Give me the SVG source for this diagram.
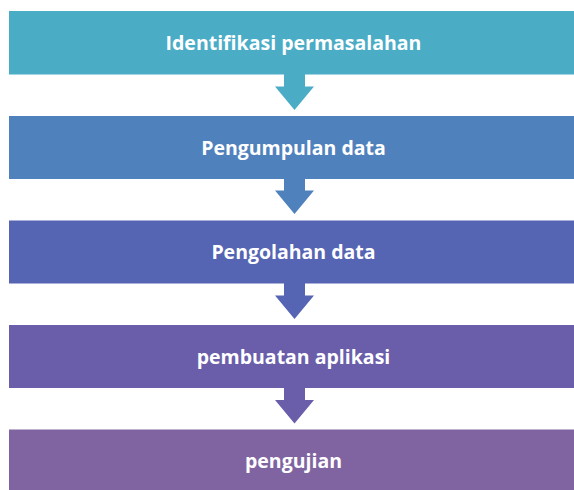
<svg xmlns="http://www.w3.org/2000/svg" width="574" height="490" viewBox="0 0 574 490">
<style>
.lbl{font-family:"Open Sans","Liberation Sans",sans-serif;font-weight:bold;font-size:19.5px;fill:#ffffff;text-anchor:middle}
</style>
<defs>
<path id="arr" d="M284,0 H305 V12.5 H314 L294.5,36 L275,12.5 H284 Z"/>
</defs>
<rect width="574" height="490" fill="#ffffff"/>
<g id="connectors">
<use href="#arr" y="74" fill="#4BACC6"/>
<use href="#arr" y="178" fill="#4F81BD"/>
<use href="#arr" y="283" fill="#5565B3"/>
<use href="#arr" y="387.5" fill="#6A5DAA"/>
</g>
<g id="n1"><rect x="9" y="11" width="565" height="63.5" fill="#4BACC6"/><text class="lbl" x="293.5" y="49.5">Identifikasi permasalahan</text></g>
<g id="n2"><rect x="9" y="116" width="565" height="63" fill="#4F81BD"/><text class="lbl" x="293.5" y="154.5">Pengumpulan data</text></g>
<g id="n3"><rect x="9" y="220.5" width="565" height="63" fill="#5565B3"/><text class="lbl" x="293.5" y="259">Pengolahan data</text></g>
<g id="n4"><rect x="9" y="325" width="565" height="63" fill="#6A5DAA"/><text class="lbl" x="293.5" y="363.5">pembuatan aplikasi</text></g>
<g id="n5"><rect x="9" y="429.5" width="565" height="60.5" fill="#8064A2"/><text class="lbl" x="293.5" y="468">pengujian</text></g>
</svg>
